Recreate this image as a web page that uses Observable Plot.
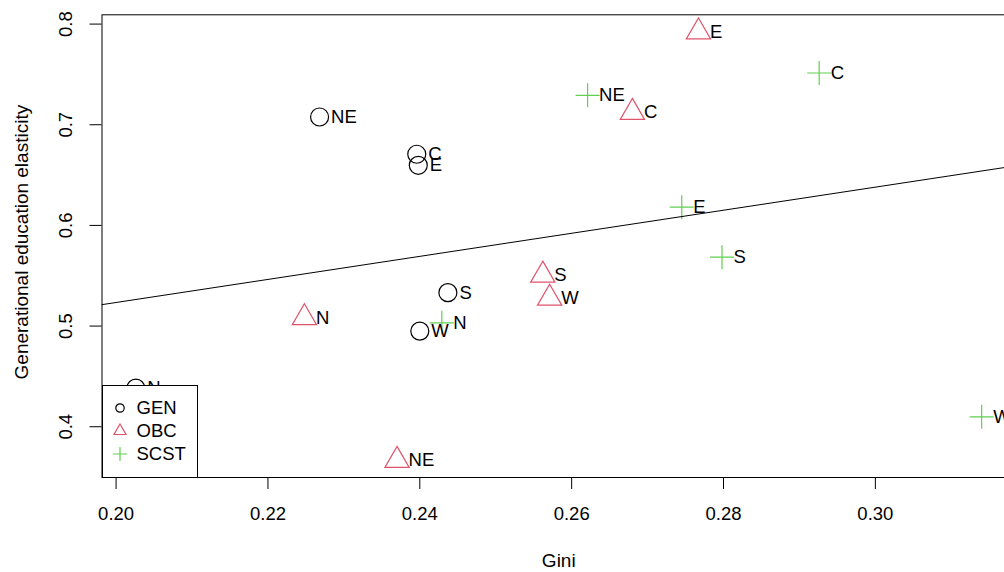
<!DOCTYPE html>
<html><head><meta charset="utf-8">
<script src="https://cdn.jsdelivr.net/npm/d3@7"></script>
<script src="https://cdn.jsdelivr.net/npm/@observablehq/plot@0.6"></script>
<style>
html,body{margin:0;padding:0;overflow:hidden;background:#fff;}
#wrap{position:relative;width:1004px;height:572px;overflow:hidden;font-family:"Liberation Sans",Arial,Helvetica,sans-serif;}
#wrap > svg{max-width:none !important;display:block;}
#legend{position:absolute;background:#fff;border:1px solid #000;box-sizing:border-box;}
.lrow{position:absolute;left:0;height:24px;font-size:18.5px;line-height:24px;}
.lrow svg{position:absolute;left:5px;top:0;}
.lrow span{position:absolute;left:34px;top:0;white-space:nowrap;}
</style></head><body><div id="wrap"></div><script>
// ---- data ----
const groups = ["GEN", "OBC", "SCST"];
const groupColors = ["#000000", "#DF536B", "#61D04F"];

const genRegion = ["NE", "C", "E", "S", "W", "N"];
const genGini   = [0.2268, 0.2396, 0.2398, 0.2437, 0.2400, 0.2026];
const genElast  = [0.7077, 0.6707, 0.6597, 0.5332, 0.4950, 0.4384];

const obcRegion = ["E", "C", "S", "W", "N", "NE"];
const obcGini   = [0.2767, 0.2680, 0.2562, 0.2571, 0.2248, 0.2370];
const obcElast  = [0.7922, 0.7123, 0.5506, 0.5277, 0.5083, 0.3666];

const scstRegion = ["NE", "C", "E", "S", "N", "W"];
const scstGini   = [0.2621, 0.2926, 0.2745, 0.2798, 0.2429, 0.3140];
const scstElast  = [0.7292, 0.7514, 0.6181, 0.5684, 0.5032, 0.4099];

const xTicks = [0.20, 0.22, 0.24, 0.26, 0.28, 0.30];
const yTicks = [0.4, 0.5, 0.6, 0.7, 0.8];
const xTitle = "Gini";
const yTitle = "Generational education elasticity";

// ---- build table ----
const table = [];
[[genRegion, genGini, genElast], [obcRegion, obcGini, obcElast], [scstRegion, scstGini, scstElast]]
  .forEach(([r, g, e], gi) => r.forEach((name, i) => table.push({group: groups[gi], region: name, gini: g[i], elast: e[i]})));

// R-style 4% expanded ranges
function rRange(vals) { const lo = d3.min(vals), hi = d3.max(vals), d = (hi - lo) * 0.04; return [lo - d, hi + d]; }
const xDomain = rRange(table.map(d => d.gini));
const yDomain = rRange(table.map(d => d.elast));

// least-squares fit over all points (abline)
const mx = d3.mean(table, d => d.gini), my = d3.mean(table, d => d.elast);
const slope = d3.sum(table, d => (d.gini - mx) * (d.elast - my)) / d3.sum(table, d => (d.gini - mx) ** 2);
const intercept = my - slope * mx;
const fitLine = xDomain.map(x => ({gini: x, elast: intercept + slope * x}));

// custom symbols (R-like)
const triSym = {draw(ctx, size) { const k = Math.sqrt(size / Math.PI), u = k * Math.sqrt(3) / 2;
  ctx.moveTo(0, -k); ctx.lineTo(u, k / 2); ctx.lineTo(-u, k / 2); ctx.closePath(); }};
const plusSym = {draw(ctx, size) { const k = Math.sqrt(size / Math.PI);
  ctx.moveTo(-k, 0); ctx.lineTo(k, 0); ctx.moveTo(0, -k); ctx.lineTo(0, k); }};

const W = 1016, H = 572, mL = 101.5, mR = 1, mT = 14.3, mB = 95;
const font = "'Liberation Sans', Arial, Helvetica, sans-serif";

const chart = Plot.plot({
  width: W, height: H,
  marginLeft: mL, marginRight: mR, marginTop: mT, marginBottom: mB,
  style: {fontFamily: font, fontSize: "18.5px", color: "#000", background: "#fff", overflow: "visible", maxWidth: "none"},
  x: {domain: xDomain},
  y: {domain: yDomain},
  marks: [
    Plot.frame({stroke: "#000", strokeWidth: 1}),
    Plot.axisX({ticks: xTicks, tickSize: 12, tickPadding: 17, tickFormat: d3.format(".2f"), label: null, fontSize: 18.5, strokeWidth: 1}),
    Plot.axisY({ticks: yTicks, tickSize: 12, tickFormat: () => "", label: null, strokeWidth: 1}),
    Plot.text(yTicks, {y: d => d, text: d => d.toFixed(1), frameAnchor: "left", rotate: -90, dx: -36, textAnchor: "middle", lineAnchor: "middle", fontSize: 18.5}),
    Plot.text([xTitle], {frameAnchor: "bottom", dy: 83, textAnchor: "middle", lineAnchor: "middle", fontSize: 19}),
    Plot.text([yTitle], {frameAnchor: "left", rotate: -90, dx: -80, dy: -4, textAnchor: "middle", lineAnchor: "middle", fontSize: 19}),
    Plot.dot(table.filter(d => d.group === "GEN"), {x: "gini", y: "elast", symbol: "circle", r: 9, stroke: groupColors[0], fill: "none", strokeWidth: 1.2}),
    Plot.dot(table.filter(d => d.group === "OBC"), {x: "gini", y: "elast", symbol: triSym, r: 14, stroke: groupColors[1], fill: "none", strokeWidth: 1.2}),
    Plot.dot(table.filter(d => d.group === "SCST"), {x: "gini", y: "elast", symbol: plusSym, r: 12, stroke: groupColors[2], fill: "none", strokeWidth: 1.2}),
    Plot.text(table, {x: "gini", y: "elast", text: "region", dx: 11.5, textAnchor: "start", lineAnchor: "middle", fill: "#000", fontSize: 18.5}),
    Plot.line(fitLine, {x: "gini", y: "elast", stroke: "#000", strokeWidth: 1})
  ]
});
const wrap = document.getElementById("wrap");
wrap.appendChild(chart);

// legend (bottom-left of the plot region, drawn over points like R's legend)
const legend = document.createElement("div");
legend.id = "legend";
const legW = 96, legH = 93;
legend.style.left = mL + "px";
legend.style.top = (H - mB - legH + 0.5) + "px";
legend.style.width = legW + "px";
legend.style.height = legH + "px";
const legSyms = [
  `<circle cx="12" cy="12" r="4.2" fill="none" stroke="${groupColors[0]}" stroke-width="1.2"/>`,
  `<path d="M12,5L18.06,15.5L5.94,15.5Z" fill="none" stroke="${groupColors[1]}" stroke-width="1.2"/>`,
  `<path d="M5,12H19M12,5V19" fill="none" stroke="${groupColors[2]}" stroke-width="1.2"/>`
];
groups.forEach((g, i) => {
  const row = document.createElement("div");
  row.className = "lrow";
  row.style.top = (10 + i * 23) + "px";
  row.innerHTML = `<svg width="24" height="24">${legSyms[i]}</svg><span>${g}</span>`;
  legend.appendChild(row);
});
wrap.appendChild(legend);
</script></body></html>
